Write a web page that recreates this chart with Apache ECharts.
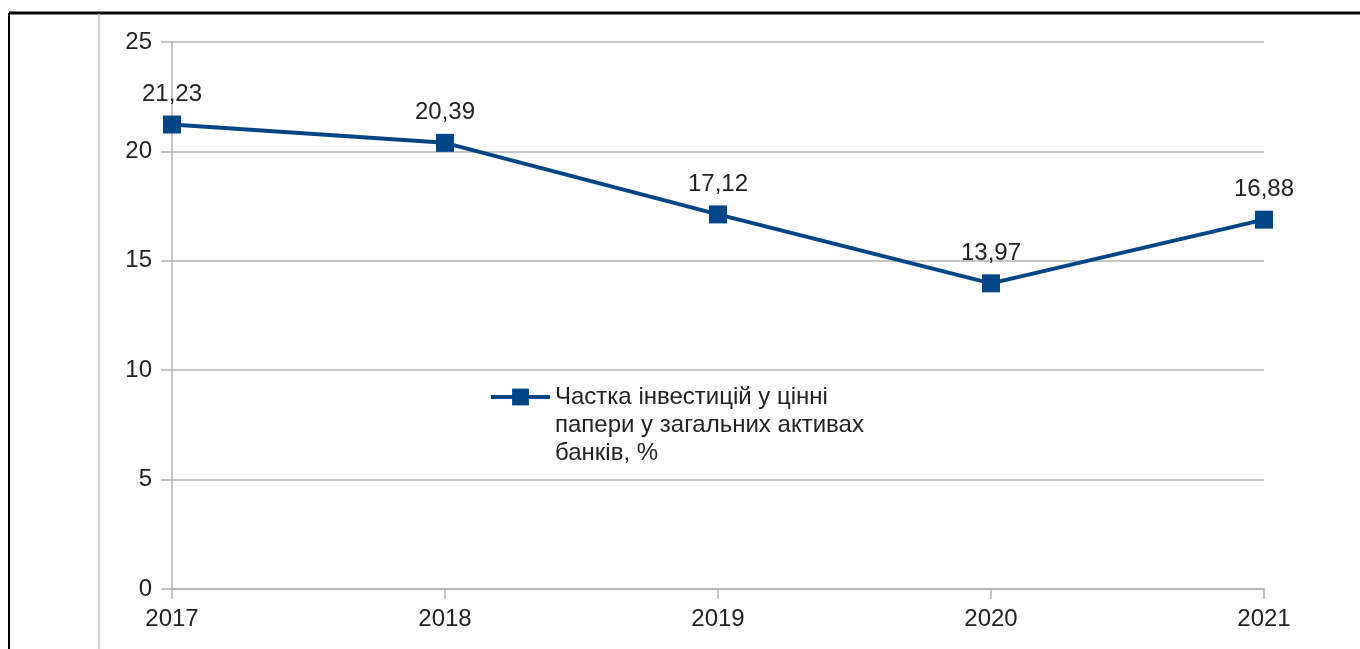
<!DOCTYPE html>
<html>
<head>
<meta charset="utf-8">
<script src="https://cdn.jsdelivr.net/npm/echarts@6/dist/echarts.min.js"></script>
<style>
  html, body { margin: 0; padding: 0; background: #fff; }
  #chart { width: 1360px; height: 649px; }
</style>
</head>
<body>
<div id="chart"></div>
<script>
// дані з графіка
var years = ['2017', '2018', '2019', '2020', '2021']
var shareValues = [21.23, 20.39, 17.12, 13.97, 16.88]
var seriesName = 'Частка інвестицій у цінні папери у загальних активах банків, %'
var legendLines = ['Частка інвестицій у цінні', 'папери у загальних активах', 'банків, %']

var blue = '#004586'
var gray = '#b3b3b3'
var txt = '#222'
var font = '"Liberation Sans", Arial, sans-serif'

var myChart = echarts.init(document.getElementById('chart'))
var option = {
  backgroundColor: '#fff',
  animation: false,
  textStyle: { fontFamily: font },
  grid: { left: 172, right: 96, top: 42, bottom: 60, containLabel: false },
  legend: {
    left: 489,
    top: 327,
    padding: 0,
    itemWidth: 59,
    itemHeight: 21,
    data: [seriesName],
    lineStyle: { width: 4 },
    // дві порожні лінії зверху, щоб значок стояв навпроти першого рядка
    formatter: function () { return '\n\n' + legendLines.join('\n') },
    textStyle: {
      fontSize: 24,
      color: txt,
      lineHeight: 28,
      fontFamily: font
    }
  },
  xAxis: {
    type: 'category',
    boundaryGap: false,
    data: years,
    axisLine: { show: true, lineStyle: { color: gray, width: 1.5 } },
    axisTick: { show: true, length: 10, lineStyle: { color: gray, width: 1.5 } },
    axisLabel: { fontSize: 24, color: txt, margin: 18 },
    splitLine: { show: false }
  },
  yAxis: [{
    type: 'value',
    min: 0,
    max: 25,
    interval: 5,
    axisLine: { show: true, lineStyle: { color: gray, width: 1.5 } },
    axisTick: { show: true, length: 11, lineStyle: { color: gray, width: 1.5 } },
    axisLabel: { fontSize: 24, color: txt, margin: 20 },
    splitLine: { show: true, lineStyle: { color: gray, width: 1.5 } }
  }],
  series: [{
    name: seriesName,
    type: 'line',
    data: shareValues,
    color: blue,
    lineStyle: { width: 4, color: blue },
    symbol: 'rect',
    symbolSize: 18,
    itemStyle: { color: blue },
    label: {
      show: true,
      position: 'top',
      distance: 9,
      fontSize: 24,
      color: txt,
      formatter: function (p) { return p.value.toFixed(2).replace('.', ',') }
    }
  }],
  graphic: [
    { type: 'line', shape: { x1: 9, y1: 13, x2: 1360, y2: 13 }, style: { stroke: '#000', lineWidth: 3 } },
    { type: 'line', shape: { x1: 9, y1: 13, x2: 9, y2: 649 }, style: { stroke: '#000', lineWidth: 2 } },
    { type: 'line', shape: { x1: 99, y1: 14, x2: 99, y2: 649 }, style: { stroke: '#c4c4c4', lineWidth: 1.5 } }
  ]
}
myChart.setOption(option)
</script>
</body>
</html>
